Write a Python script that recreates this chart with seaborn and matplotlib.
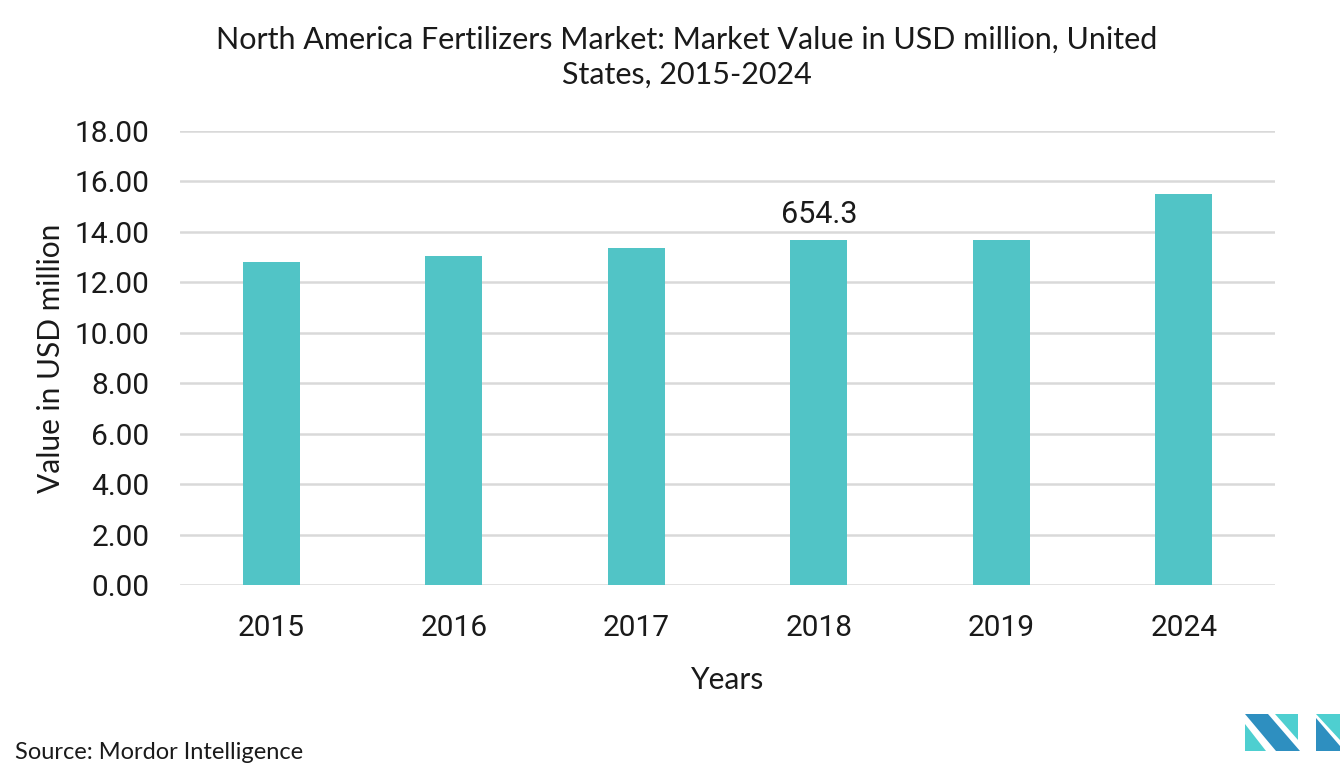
import matplotlib
matplotlib.use("Agg")
import matplotlib.pyplot as plt
from matplotlib.patches import Polygon
import seaborn as sns
import pandas as pd

# data
years = ["2015", "2016", "2017", "2018", "2019", "2024"]
values = [12.81, 13.05, 13.36, 13.68, 13.68, 15.50]
yticks = [0, 2, 4, 6, 8, 10, 12, 14, 16, 18]
bar_label_text = "654.3"
bar_label_year = "2018"

df = pd.DataFrame({"Year": years, "Value": values})

sns.set_theme(style="white")
plt.rcParams['font.family'] = ['Lato', 'DejaVu Sans']

fig = plt.figure(figsize=(13.42, 7.84), dpi=100)
ax = fig.add_axes([0.1341, 0.2538, 0.8160, 0.5791])

sns.barplot(data=df, x="Year", y="Value", color="#51c4c6", width=0.31,
            saturation=1, linewidth=0, ax=ax, zorder=3)

ax.set_ylim(0, 18)
ax.set_xlim(-0.5, len(years) - 0.5)
ax.set_yticks(yticks)
ax.set_yticklabels([f"{t:.2f}" for t in yticks], fontsize=21.5, family="Roboto", color="#1a1a1a")
ax.set_xticklabels(years, fontsize=21.5, family="Roboto", color="#1a1a1a")
ax.tick_params(axis="y", length=0, pad=22)
ax.tick_params(axis="x", length=0, pad=21)
ax.grid(axis="y", color="#d9d9d9", linewidth=1.8, zorder=0)
for s in ax.spines.values():
    s.set_visible(False)

ax.set_xlabel("Years", fontsize=21.5, color="#1a1a1a", labelpad=17)
ax.set_ylabel("Value in USD million", fontsize=21.5, color="#1a1a1a", labelpad=7)

# single value label
i = years.index(bar_label_year)
ax.text(i, values[i] + 0.45, bar_label_text, ha="center", va="bottom",
        fontsize=22, family="Roboto", color="#1a1a1a")

fig.text(0.5115, 0.927, "North America Fertilizers Market: Market Value in USD million, United\nStates, 2015-2024",
         ha="center", va="center", fontsize=22, color="#1a1a1a", linespacing=1.3)
fig.text(0.011, 0.04, "Source: Mordor Intelligence", ha="left", va="center",
         fontsize=17, color="#1a1a1a")

# logo
def fp(x, y):
    return (x / 1342, 1 - y / 784)

dark = "#2e8fc0"
teal = "#4ecfd0"
logo = [
    ([(1245, 714), (1268, 714), (1300, 751), (1276, 751)], dark),
    ([(1245, 724), (1245, 751), (1266, 751)], teal),
    ([(1275, 714), (1298, 714), (1298, 740)], teal),
    ([(1316, 714), (1340, 714), (1340, 740)], teal),
    ([(1316, 718), (1316, 751), (1340, 751), (1340, 746)], dark),
]
for pts, c in logo:
    fig.patches.append(Polygon([fp(*p) for p in pts], closed=True, facecolor=c,
                               edgecolor="none", transform=fig.transFigure))

fig.savefig("out.png", dpi=100)
